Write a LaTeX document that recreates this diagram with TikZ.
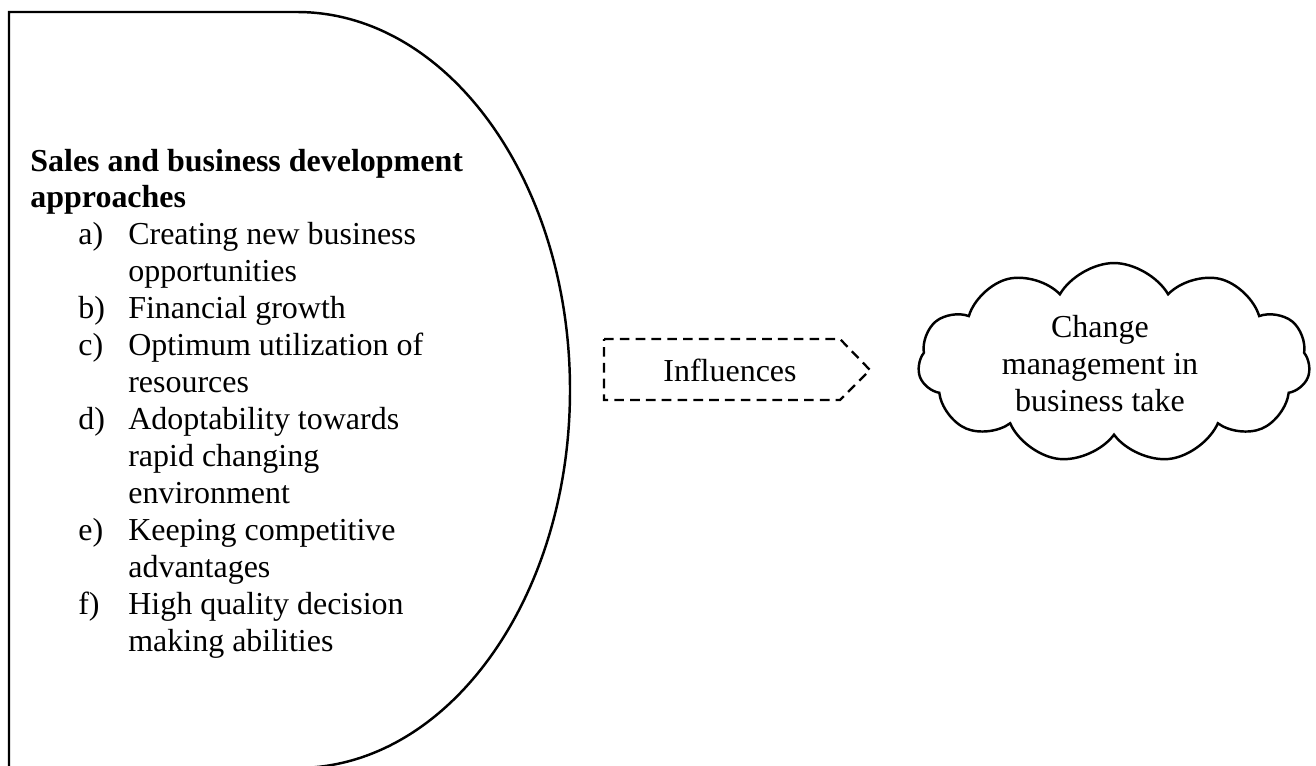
\documentclass[tikz,border=0pt]{standalone}
\usepackage{fontspec}
\setmainfont{Liberation Serif}
\usetikzlibrary{shapes.symbols}
\tikzset{
	txt/.style={font=\fontsize{18.2}{21.05}\selectfont, inner sep=0pt},
	dashbox/.style={line width=1.3pt, dash pattern=on 5.5pt off 3.5pt},
	puff/.style={cloud, draw, line width=1.4pt, cloud puffs=11, cloud puff arc=120, cloud ignores aspect, minimum width=7.84cm, minimum height=4cm, inner sep=0pt}
}
\begin{document}
\begin{tikzpicture}[x=0.02cm,y=-0.02cm]
	\useasboundingbox (0,0) rectangle (1316,765);
	\clip (0,0) rectangle (1316,765);
	\path (9,12) coordinate (A)
	++ (288,0) coordinate (B)
	+ (0,756) coordinate (C)
	(9,768) coordinate (D);
	\draw[line width=1.4pt] (D) -- (A) -- (B) arc[start angle=-90, end angle=90, x radius=273, y radius=378] -- (D);
	\node[txt, anchor=base west] (approach) at (30,171) {%
		\begin{tabular}[t]{@{\hspace{0.96cm}}p{1.0cm}@{}l@{}}
			\multicolumn{2}{@{}l@{}}{\bfseries Sales and business development}\\
			\multicolumn{2}{@{}l@{}}{\bfseries approaches}\\
			a) & Creating new business\\
			& opportunities\\
			b) & Financial growth\\
			c) & Optimum utilization of\\
			& resources\\
			d) & Adoptability towards\\
			& rapid changing\\
			& environment\\
			e) & Keeping competitive\\
			& advantages\\
			f) & High quality decision\\
			& making abilities
		\end{tabular}};
	\path (604,339) coordinate (P)
	++ (236,0) coordinate (Q)
	++ (30,31) coordinate (R)
	++ (-30,30) coordinate (S)
	++ (-236,0) coordinate (T);
	\draw[dashbox] (P) -- (Q) -- (R) -- (S) -- (T) -- cycle;
	\node[txt] (influence) at (730,370) {Influences};
	\node[puff] (cloud) at (1114,363) {};
	\node[txt, align=center] (change) at (1100,364) {Change\\management in\\business take};
\end{tikzpicture}
\end{document}
